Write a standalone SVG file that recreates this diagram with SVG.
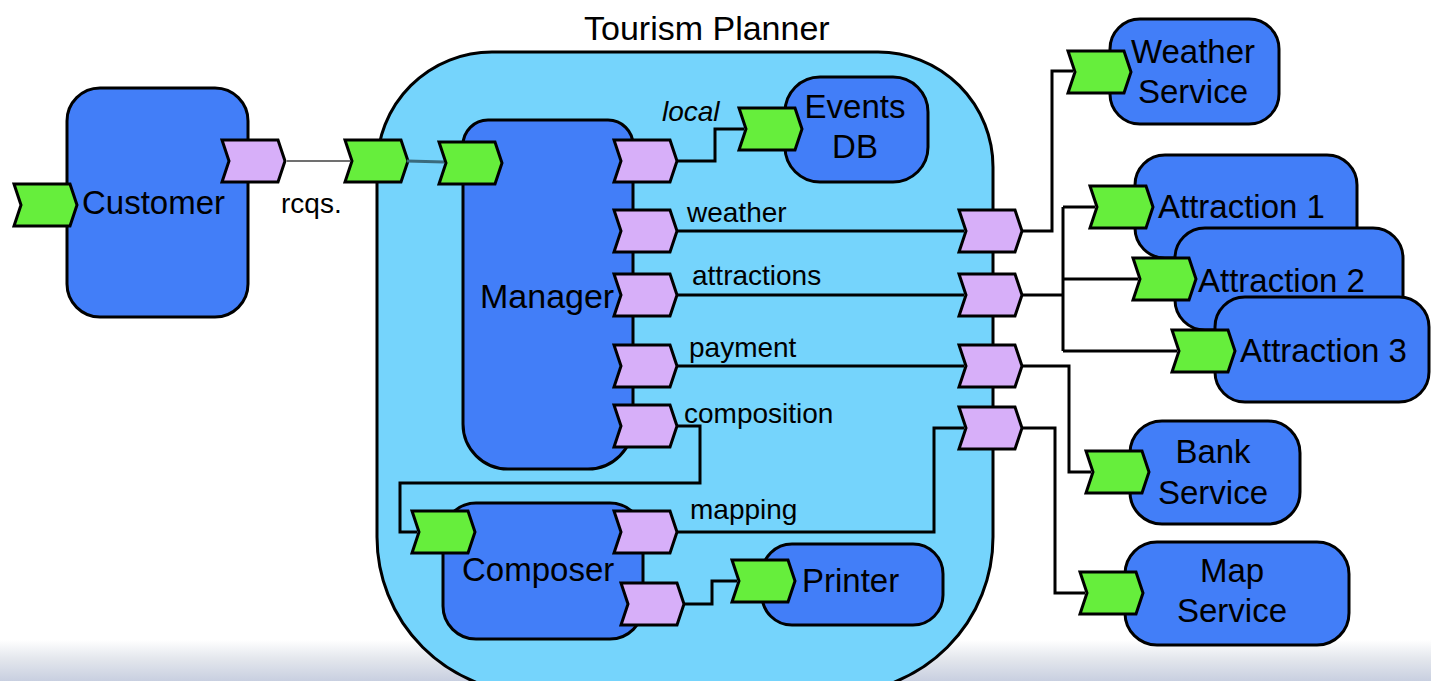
<svg xmlns="http://www.w3.org/2000/svg" xmlns:xlink="http://www.w3.org/1999/xlink" width="1431" height="681" viewBox="0 0 1431 681">
<style>
.box{fill:#427EF8;stroke:#000;stroke-width:3}
.comp{fill:#75D4FC;stroke:#000;stroke-width:3}
.pg{fill:#66EE3C;stroke:#000;stroke-width:3;stroke-linejoin:miter}
.pp{fill:#D7AFF9;stroke:#000;stroke-width:3;stroke-linejoin:miter}
.lbl{font-family:"Liberation Sans",Arial,sans-serif;font-size:33px;fill:#000}
.big{font-family:"Liberation Sans",Arial,sans-serif;font-size:34px;fill:#000}
.sm{font-family:"Liberation Sans",Arial,sans-serif;font-size:28px;fill:#000}
.wire{fill:none;stroke:#000;stroke-width:3}
.mid{text-anchor:middle}
</style>
<defs>
<path id="port" d="M0,0 H56 L63,21 L56,42 H0 L7,21 Z"/>
<linearGradient id="band" x1="0" y1="0" x2="0" y2="1">
<stop offset="0" stop-color="#ffffff"/>
<stop offset="0.45" stop-color="#e4e7ed"/>
<stop offset="1" stop-color="#c8cfe0"/>
</linearGradient>
</defs>
<rect x="0" y="0" width="1431" height="681" fill="#fff"/>
<rect x="0" y="640" width="1431" height="41" fill="url(#band)"/>

<g id="tourism-planner">
<path class="comp" d="M492,52 H878 A115,115 0 0 1 993,167 V537 A156,156 0 0 1 837,693 H533 A156,156 0 0 1 377,537 V167 A115,115 0 0 1 492,52 Z"/>
<text class="big" x="584" y="40">Tourism Planner</text>
<use href="#port" class="pg" x="345" y="140"/>
<use href="#port" class="pp" x="959" y="210"/>
<use href="#port" class="pp" x="959" y="274"/>
<use href="#port" class="pp" x="959" y="345"/>
<use href="#port" class="pp" x="959" y="407"/>
</g>

<g id="connectors">
<line x1="287" y1="161" x2="350" y2="161" stroke="#707070" stroke-width="2"/>
<line x1="407" y1="161" x2="444" y2="162" stroke="#3a6a7c" stroke-width="3"/>
<path class="wire" d="M677,161 H715 V129 H744"/>
<path class="wire" d="M677,231 H964"/>
<path class="wire" d="M677,295 H964"/>
<path class="wire" d="M677,366 H964"/>
<path class="wire" d="M677,426 H700 V483 H400 V532 H417"/>
<path class="wire" d="M677,532 H934 V428 H964"/>
<path class="wire" d="M683,604 H712 V581 H737"/>
<path class="wire" d="M1022,231 H1052 V71 H1073"/>
<path class="wire" d="M1022,295 H1063"/>
<path class="wire" d="M1063,207 V351"/>
<path class="wire" d="M1063,207 H1095"/>
<path class="wire" d="M1063,279 H1138"/>
<path class="wire" d="M1063,351 H1177"/>
<path class="wire" d="M1022,366 H1069 V472 H1091"/>
<path class="wire" d="M1022,428 H1055 V593 H1085"/>
</g>

<g id="customer">
<rect class="box" x="67" y="88" width="181" height="229" rx="33"/>
<text class="lbl" x="82" y="214">Customer</text>
<use href="#port" class="pg" x="14" y="184"/>
<use href="#port" class="pp" x="222" y="140"/>
</g>
<text class="sm" x="281" y="213">rcqs.</text>

<g id="manager">
<path class="box" d="M488,120 H608 A25,25 0 0 1 633,145 V424 A45,45 0 0 1 588,469 H508 A45,45 0 0 1 463,424 V145 A25,25 0 0 1 488,120 Z"/>
<text class="big" x="480" y="308">Manager</text>
<use href="#port" class="pg" x="439" y="142"/>
<use href="#port" class="pp" x="614" y="140"/>
<use href="#port" class="pp" x="614" y="210"/>
<use href="#port" class="pp" x="614" y="274"/>
<use href="#port" class="pp" x="614" y="345"/>
<use href="#port" class="pp" x="614" y="405"/>
</g>
<text class="sm" x="662" y="121" font-style="italic">local</text>
<text class="sm" x="687" y="222">weather</text>
<text class="sm" x="692" y="285">attractions</text>
<text class="sm" x="689" y="357">payment</text>
<text class="sm" x="684" y="423">composition</text>
<text class="sm" x="690" y="519">mapping</text>

<g id="events-db">
<rect class="box" x="785" y="77" width="143" height="105" rx="35"/>
<text class="lbl mid" x="855" y="118">Events</text>
<text class="lbl mid" x="855" y="158">DB</text>
<use href="#port" class="pg" x="739" y="108"/>
</g>

<g id="composer">
<rect class="box" x="443" y="503" width="200" height="136" rx="33"/>
<text class="lbl" x="462" y="581">Composer</text>
<use href="#port" class="pg" x="412" y="511"/>
<use href="#port" class="pp" x="614" y="511"/>
<use href="#port" class="pp" x="621" y="583"/>
</g>

<g id="printer">
<rect class="box" x="762" y="544" width="181" height="81" rx="30"/>
<text class="lbl" x="802" y="592">Printer</text>
<use href="#port" class="pg" x="732" y="560"/>
</g>

<g id="weather-service">
<rect class="box" x="1110" y="19" width="169" height="105" rx="30"/>
<text class="lbl mid" x="1193" y="63">Weather</text>
<text class="lbl mid" x="1193" y="103">Service</text>
<use href="#port" class="pg" x="1068" y="51"/>
</g>

<g id="attraction-1">
<rect class="box" x="1135" y="155" width="222" height="103" rx="30"/>
<text class="lbl" x="1158" y="218">Attraction 1</text>
<use href="#port" class="pg" x="1090" y="186"/>
</g>
<g id="attraction-2">
<rect class="box" x="1175" y="228" width="228" height="102" rx="30"/>
<text class="lbl" x="1198" y="292">Attraction 2</text>
<use href="#port" class="pg" x="1133" y="258"/>
</g>
<g id="attraction-3">
<rect class="box" x="1215" y="297" width="214" height="105" rx="30"/>
<text class="lbl" x="1240" y="362">Attraction 3</text>
<use href="#port" class="pg" x="1172" y="330"/>
</g>

<g id="bank-service">
<rect class="box" x="1130" y="421" width="170" height="103" rx="32"/>
<text class="lbl mid" x="1213" y="463">Bank</text>
<text class="lbl mid" x="1213" y="504">Service</text>
<use href="#port" class="pg" x="1086" y="451"/>
</g>

<g id="map-service">
<rect class="box" x="1125" y="542" width="224" height="103" rx="32"/>
<text class="lbl mid" x="1232" y="582">Map</text>
<text class="lbl mid" x="1232" y="622">Service</text>
<use href="#port" class="pg" x="1080" y="572"/>
</g>
</svg>
